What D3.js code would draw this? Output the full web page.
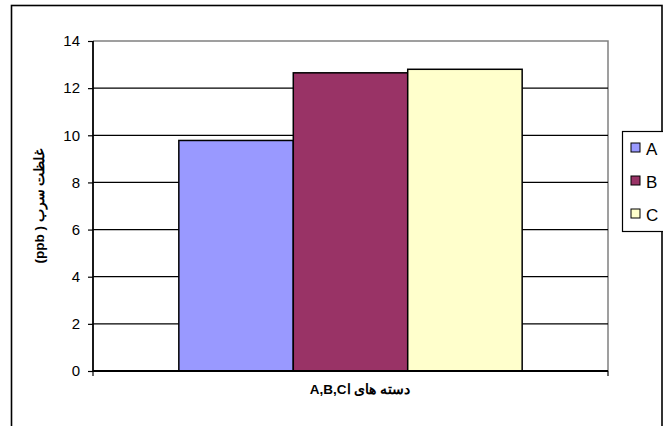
<!DOCTYPE html>
<html>
<head>
<meta charset="utf-8">
<script src="https://cdn.jsdelivr.net/npm/d3@7"></script>
<style>
  body { margin: 0; background: #fff; }
  #chart { width: 663px; height: 426px; }
  text { font-family: "Liberation Sans", Arial, sans-serif; }
</style>
</head>
<body>
<div id="chart"></div>
<script>
/* DATA */
const series = ["A", "B", "C"];
const values = [9.78, 12.65, 12.8];
const colors = ["#9999FF", "#993366", "#FFFFCC"];
const yTicks = [0, 2, 4, 6, 8, 10, 12, 14];
const yTitle = "غلظت سرب ( ppb)";
const xTitle = "دسته های اA,B,C";

const width = 663, height = 426;
const margin = {top: 41, left: 93, right: 56, bottom: 55};

const svg = d3.select("#chart")
    .append("svg")
    .attr("width", width)
    .attr("height", height);

/* OUTER FRAME */
svg.append("rect")
    .attr("x", 11.5).attr("y", 5.5)
    .attr("width", 650.5).attr("height", 440)
    .attr("fill", "none")
    .attr("stroke", "#000")
    .attr("stroke-width", 1.6);

/* SCALES */
const yScale = d3.scaleLinear()
    .domain([0, 14])
    .range([height - margin.bottom, margin.top]);

const xScale = d3.scaleBand()
    .domain(series)
    .range([margin.left, width - margin.right + 1])
    .paddingInner(0)
    .paddingOuter(0.75);

const x0 = margin.left, x1 = width - margin.right + 1;
const y0 = yScale(0), y1 = yScale(14);

/* PLOT BORDER (gray top + right) */
svg.append("path")
    .attr("d", `M${x0},${y1}H${x1}V${y0}`)
    .attr("fill", "none")
    .attr("stroke", "#808080")
    .attr("stroke-width", 1.5);

/* GRIDLINES */
svg.selectAll("line.grid")
    .data(yTicks.filter(d => d > 0 && d < 14))
    .enter()
    .append("line")
    .attr("class", "grid")
    .attr("x1", x0).attr("x2", x1)
    .attr("y1", d => yScale(d)).attr("y2", d => yScale(d))
    .attr("stroke", "#000")
    .attr("stroke-width", 1.2);

/* BARS */
svg.selectAll("rect.bar")
    .data(series)
    .enter()
    .append("rect")
    .attr("class", "bar")
    .attr("x", d => xScale(d))
    .attr("y", (d, i) => yScale(values[i]))
    .attr("width", xScale.bandwidth())
    .attr("height", (d, i) => y0 - yScale(values[i]))
    .attr("fill", (d, i) => colors[i])
    .attr("stroke", "#000")
    .attr("stroke-width", 1.5);

/* Y AXIS */
const yAxis = svg.append("g")
    .attr("transform", `translate(${x0},0)`)
    .call(d3.axisLeft(yScale).tickValues(yTicks).tickSize(5).tickPadding(8).tickFormat(d3.format("d")));
yAxis.select(".domain").attr("stroke", "#000").attr("stroke-width", 1.8).attr("d", `M0,${y1}V${y0}`);
yAxis.selectAll(".tick line").attr("stroke", "#000").attr("stroke-width", 1.2);
yAxis.selectAll("text").attr("font-size", 15).attr("fill", "#000")
    .style("font-family", "'Liberation Sans', Arial, sans-serif");

/* X AXIS (one category, ticks at both ends) */
svg.append("line")
    .attr("x1", x0).attr("x2", x1)
    .attr("y1", y0).attr("y2", y0)
    .attr("stroke", "#000").attr("stroke-width", 1.8);
svg.selectAll("line.xtick")
    .data([x0, x1])
    .enter()
    .append("line")
    .attr("class", "xtick")
    .attr("x1", d => d).attr("x2", d => d)
    .attr("y1", y0).attr("y2", y0 + 5)
    .attr("stroke", "#000").attr("stroke-width", 1.2);

/* AXIS TITLES */
svg.append("text")
    .attr("x", 360)
    .attr("y", 394)
    .attr("text-anchor", "middle")
    .attr("direction", "rtl")
    .attr("font-size", 13.5)
    .attr("font-weight", "bold")
    .text(xTitle);

svg.append("text")
    .attr("transform", `translate(44,${(y0 + y1) / 2}) rotate(-90)`)
    .attr("text-anchor", "middle")
    .attr("direction", "rtl")
    .attr("font-size", 13.5)
    .attr("font-weight", "bold")
    .text(yTitle);

/* LEGEND */
const legend = svg.append("g");
legend.append("rect")
    .attr("x", 622.5).attr("y", 131.5)
    .attr("width", 60).attr("height", 100)
    .attr("fill", "#fff")
    .attr("stroke", "#000")
    .attr("stroke-width", 1.2);

const items = legend.selectAll("g.item")
    .data(series)
    .enter()
    .append("g")
    .attr("class", "item")
    .attr("transform", (d, i) => `translate(631,${148 + i * 33})`);
items.append("rect")
    .attr("x", 0).attr("y", -5)
    .attr("width", 9).attr("height", 9)
    .attr("fill", (d, i) => colors[i])
    .attr("stroke", "#000")
    .attr("stroke-width", 1);
items.append("text")
    .attr("x", 15).attr("y", 6.5)
    .attr("font-size", 17)
    .text(d => d);
</script>
</body>
</html>
